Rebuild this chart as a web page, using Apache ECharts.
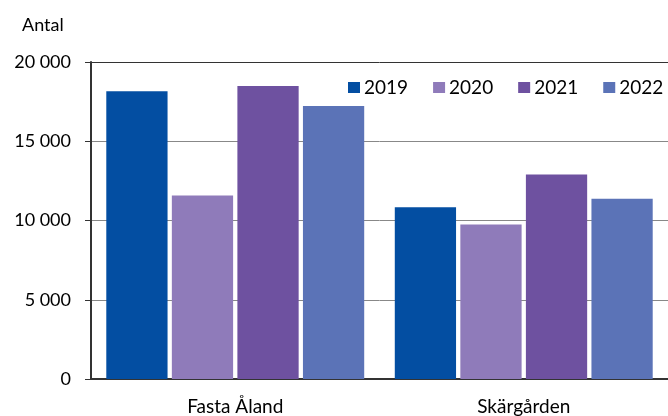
<!DOCTYPE html>
<html>
<head>
<meta charset="utf-8">
<script src="https://cdn.jsdelivr.net/npm/echarts@6/dist/echarts.min.js"></script>
<style>
  html, body { margin: 0; padding: 0; background: #fff; }
  #chart { width: 668px; height: 416px; }
</style>
</head>
<body>
<div id="chart"></div>
<script>
// data
var categories = ['Fasta Åland', 'Skärgården'];
var years = ['2019', '2020', '2021', '2022'];
var v2019 = [18150, 10840];
var v2020 = [11570, 9750];
var v2021 = [18490, 12910];
var v2022 = [17230, 11370];
var yTicks = [0, 5000, 10000, 15000, 20000];

(function() {
  var font = 'Lato, "Noto Sans", sans-serif';
  var colors = ['#034ea2', '#8f7bba', '#6e51a0', '#5b73b7'];
  var values = [v2019, v2020, v2021, v2022];

  // "20000" -> "20 000"
  function fmt(v) {
    return String(v).replace(/\B(?=(\d{3})+(?!\d))/g, ' ');
  }

  var series = years.map(function(y, i) {
    return {
      name: y,
      type: 'bar',
      data: values[i],
      barGap: '7%',
      barCategoryGap: '10.6%',
      itemStyle: { color: colors[i] },
      emphasis: { disabled: true }
    };
  });

  var chart = echarts.init(document.getElementById('chart'));
  chart.setOption({
    animation: false,
    textStyle: { fontFamily: font },
    title: {
      text: 'Antal',
      left: 17,
      top: 11,
      textStyle: { fontFamily: font, fontSize: 18, fontWeight: 'normal', color: '#000' }
    },
    legend: {
      data: years,
      left: 348,
      top: 78,
      width: 330,
      padding: 0,
      itemWidth: 12,
      itemHeight: 11,
      itemGap: 25,
      icon: 'rect',
      textStyle: { fontFamily: font, fontSize: 19, color: '#000', padding: [0, 0, 0, -1] }
    },
    grid: { left: 91, right: -3, top: 62, bottom: 36 },
    xAxis: {
      type: 'category',
      data: categories,
      axisLine: { lineStyle: { color: '#333', width: 2 } },
      axisTick: { show: false },
      axisLabel: { fontFamily: font, fontSize: 19, color: '#000', margin: 18 }
    },
    yAxis: {
      type: 'value',
      min: yTicks[0],
      max: yTicks[yTicks.length - 1],
      interval: yTicks[1] - yTicks[0],
      axisLine: { show: true, lineStyle: { color: '#333', width: 2 } },
      axisTick: { show: true, length: 6, lineStyle: { color: '#333', width: 1 } },
      axisLabel: {
        fontFamily: font, fontSize: 18, color: '#000', margin: 20,
        formatter: fmt
      },
      splitLine: {
        lineStyle: { color: ['#888', '#888', '#888', '#888', '#333'], width: 1 }
      }
    },
    series: series
  });
}());
</script>
</body>
</html>
